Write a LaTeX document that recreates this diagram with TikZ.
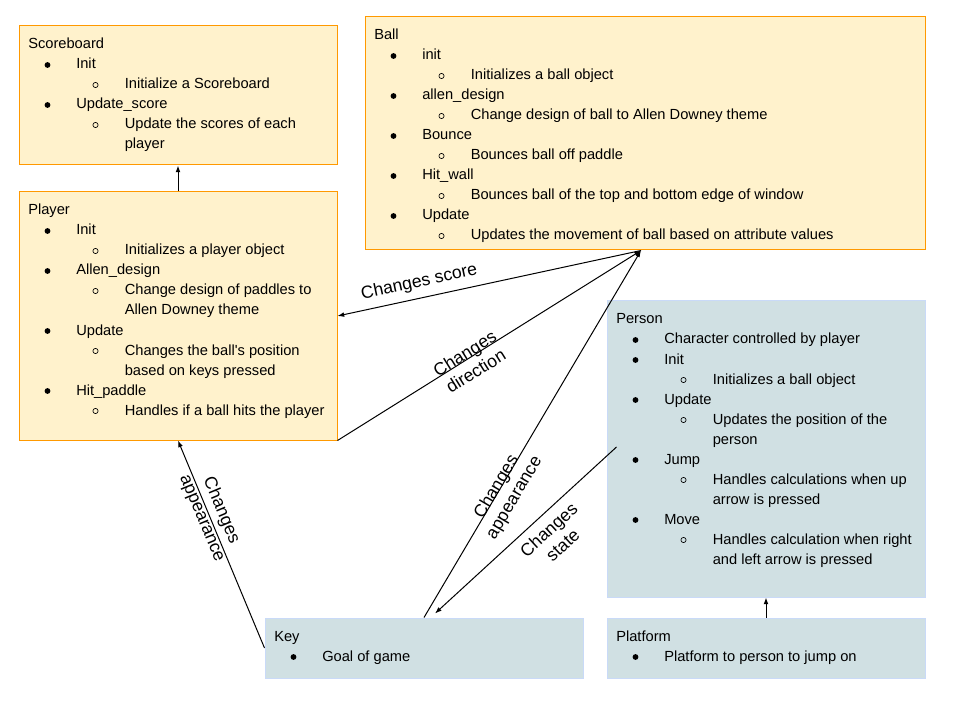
\documentclass[tikz,border=0pt]{standalone}
\usepackage{fontspec}
\setmainfont{Liberation Sans}
\usetikzlibrary{arrows.meta,calc,fit}
\definecolor{cardfill}{HTML}{FFF2CC}
\definecolor{cardline}{HTML}{FF9900}
\definecolor{bluefill}{HTML}{D0E0E3}
\definecolor{blueline}{HTML}{C9DAF8}
\newcommand{\boxtitle}[2]{\node[txt] (#1-0) at ($(#1.north west)+(9.5,23.5)$) {#2};}
\newcommand{\boxitem}[3]{%
  \fill ($(#1.north west)+(29,19.5+20*#2)$) circle[radius=2.9];
  \node[txt] (#1-#2) at ($(#1.north west)+(57.5,23.5+20*#2)$) {#3};}
\newcommand{\boxsub}[3]{%
  \draw[line width=0.5pt] ($(#1.north west)+(77,19.5+20*#2)$) circle[radius=2.6];
  \node[txt] (#1-#2) at ($(#1.north west)+(106,23.5+20*#2)$) {#3};}
\newcommand{\boxwrap}[3]{\node[txt] (#1-#2) at ($(#1.north west)+(106,23.5+20*#2)$) {#3};}
\begin{document}
\begin{tikzpicture}[x=0.75pt,y=-0.75pt,>={Latex[length=5pt,width=3.6pt]},
  ybox/.style={draw=cardline,fill=cardfill,line width=0.75pt,inner sep=0pt},
  bbox/.style={draw=blueline,fill=bluefill,line width=0.75pt,inner sep=0pt},
  txt/.style={anchor=base west,inner sep=0pt,font=\fontsize{11}{13}\selectfont},
  lbl/.style={sloped,align=center,inner sep=2pt,font=\fontsize{13.2}{15.5}\selectfont},
  link/.style={->,line width=0.75pt}]
  \useasboundingbox (0,0) rectangle (960,720);
  \node[ybox, fit={(19,26) (337,165)}] (score) {};
  \node[ybox, fit={(19,192) (337,440)}] (player) {};
  \node[ybox, fit={(365,17) (925,250)}] (ball) {};
  \node[bbox, fit={(607,301) (925,597)}] (person) {};
  \node[bbox, fit={(265,618) (583,678)}] (key) {};
  \node[bbox, fit={(607,618) (925,678)}] (plat) {};

  \boxtitle{score}{Scoreboard}
  \boxitem{score}{1}{Init}
  \boxsub{score}{2}{Initialize a Scoreboard}
  \boxitem{score}{3}{Update\_score}
  \boxsub{score}{4}{Update the scores of each}
  \boxwrap{score}{5}{player}

  \boxtitle{player}{Player}
  \boxitem{player}{1}{Init}
  \boxsub{player}{2}{Initializes a player object}
  \boxitem{player}{3}{Allen\_design}
  \boxsub{player}{4}{Change design of paddles to}
  \boxwrap{player}{5}{Allen Downey theme}
  \boxitem{player}{6}{Update}
  \boxsub{player}{7}{Changes the ball\textquotesingle s position}
  \boxwrap{player}{8}{based on keys pressed}
  \boxitem{player}{9}{Hit\_paddle}
  \boxsub{player}{10}{Handles if a ball hits the player}

  \boxtitle{ball}{Ball}
  \boxitem{ball}{1}{init}
  \boxsub{ball}{2}{Initializes a ball object}
  \boxitem{ball}{3}{allen\_design}
  \boxsub{ball}{4}{Change design of ball to Allen Downey theme}
  \boxitem{ball}{5}{Bounce}
  \boxsub{ball}{6}{Bounces ball off paddle}
  \boxitem{ball}{7}{Hit\_wall}
  \boxsub{ball}{8}{Bounces ball of the top and bottom edge of window}
  \boxitem{ball}{9}{Update}
  \boxsub{ball}{10}{Updates the movement of ball based on attribute values}

  \boxtitle{person}{Person}
  \boxitem{person}{1}{Character controlled by player}
  \boxitem{person}{2}{Init}
  \boxsub{person}{3}{Initializes a ball object}
  \boxitem{person}{4}{Update}
  \boxsub{person}{5}{Updates the position of the}
  \boxwrap{person}{6}{person}
  \boxitem{person}{7}{Jump}
  \boxsub{person}{8}{Handles calculations when up}
  \boxwrap{person}{9}{arrow is pressed}
  \boxitem{person}{10}{Move}
  \boxsub{person}{11}{Handles calculation when right}
  \boxwrap{person}{12}{and left arrow is pressed}

  \boxtitle{key}{Key}
  \boxitem{key}{1}{Goal of game}

  \boxtitle{plat}{Platform}
  \boxitem{plat}{1}{Platform to person to jump on}

  \coordinate (bp) at ($(ball.south)+(-4,0)$);
  \coordinate (ps) at ($(person.west)+(10,-2)$);
  \coordinate (kt) at ($(key.north)+(11,-4)$);

  \draw[link] (player) -- (score);
  \draw[link] (plat) -- (person);
  \draw[link] (bp) -- node[lbl, pos=0.72, above=3pt] {Changes score} (player.east);
  \draw[link] (player.south east) -- node[lbl, pos=0.43, yshift=-3pt] {Changes\\direction} (bp);
  \draw[link] (key.north) -- node[lbl, pos=0.35, yshift=-5pt] {Changes\\appearance} (bp);
  \draw[link] (ps) -- node[lbl, pos=0.43, below=4pt] {Changes\\state} (kt);
  \draw[link] (key.west) -- node[lbl, pos=0.64, yshift=2pt] {Changes\\appearance} (player.south);
\end{tikzpicture}
\end{document}
